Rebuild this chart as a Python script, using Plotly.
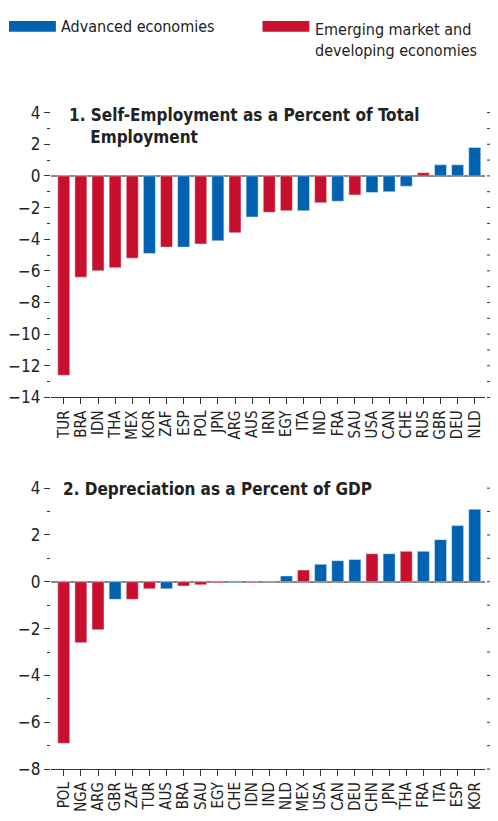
import plotly.graph_objects as go

BLUE = "#0062b0"
RED = "#c8102e"

c1 = ["TUR", "BRA", "IDN", "THA", "MEX", "KOR", "ZAF", "ESP", "POL", "JPN", "ARG", "AUS", "IRN",
      "EGY", "ITA", "IND", "FRA", "SAU", "USA", "CAN", "CHE", "RUS", "GBR", "DEU", "NLD"]
v1 = [-12.6, -6.4, -6.0, -5.8, -5.2, -4.9, -4.5, -4.5, -4.3, -4.1, -3.6, -2.6, -2.3,
      -2.2, -2.2, -1.7, -1.6, -1.2, -1.05, -1.0, -0.65, 0.2, 0.7, 0.7, 1.8]
g1 = ["E", "E", "E", "E", "E", "A", "E", "A", "E", "A", "E", "A", "E",
      "E", "A", "E", "A", "E", "A", "A", "A", "E", "A", "A", "A"]

c2 = ["POL", "NGA", "ARG", "GBR", "ZAF", "TUR", "AUS", "BRA", "SAU", "EGY", "CHE", "IDN", "IND",
      "NLD", "MEX", "USA", "CAN", "DEU", "CHN", "JPN", "THA", "FRA", "ITA", "ESP", "KOR"]
v2 = [-6.9, -2.6, -2.05, -0.75, -0.75, -0.3, -0.3, -0.18, -0.13, -0.05, -0.04, -0.04, 0.03,
      0.25, 0.5, 0.75, 0.9, 0.95, 1.2, 1.2, 1.3, 1.3, 1.8, 2.4, 3.1]
g2 = ["E", "E", "E", "A", "E", "E", "A", "E", "E", "E", "A", "E", "E",
      "A", "E", "A", "A", "A", "E", "A", "E", "A", "A", "A", "A"]

FONT = "DejaVu Sans Condensed, Liberation Sans Narrow, Liberation Sans"
W, H = 490, 813

fig = go.Figure()


def add_panel(cats, vals, grp, xa, ya):
    for key, col in [("A", BLUE), ("E", RED)]:
        xs = [c for c, g in zip(cats, grp) if g == key]
        ys = [v for v, g in zip(vals, grp) if g == key]
        fig.add_trace(go.Bar(x=xs, y=ys, marker_color=col, showlegend=False,
                             xaxis=xa, yaxis=ya, width=0.7))


add_panel(c1, v1, g1, "x", "y")
add_panel(c2, v2, g2, "x2", "y2")

XR = 477 / W
xdom = [42 / W, XR]
dom1 = [1 - 389 / H, 1 - 97 / H]
dom2 = [1 - 770 / H, 1 - 482 / H]
axx = dict(domain=xdom, tickangle=-90, ticks="outside", ticklen=6, showline=True, dtick=1,
           linecolor="#333", tickcolor="#333", tickfont=dict(size=15, color="#222", family=FONT),
           showgrid=False, range=[-0.75, 24.6])
axy = dict(ticks="outside", ticklen=6, tickcolor="#333", dtick=2, showline=False,
           showgrid=False, zeroline=True, zerolinecolor="#888", zerolinewidth=1.5,
           tickfont=dict(size=17, color="#222", family=FONT),
           minor=dict(ticks="outside", ticklen=3, dtick=1, tickcolor="#333"))

# right-hand mirrored ticks (decoration, placed in paper coords so they are not clipped)
shapes = []
for dom, lo, hi in [(dom1, -14, 4), (dom2, -8, 4)]:
    for t in range(lo, hi + 1):
        yp = dom[0] + (t - lo) / (hi - lo) * (dom[1] - dom[0])
        ln = 7 if t % 2 == 0 else 3
        shapes.append(dict(type="line", xref="paper", yref="paper", x0=XR + 2 / W,
                           x1=XR + (2 + ln) / W, y0=yp, y1=yp, line=dict(color="#333", width=1)))

shapes += [
    dict(type="rect", xref="paper", yref="paper", x0=0, x1=47 / W,
         y0=1 - 14 / H, y1=1 - 3 / H, fillcolor=BLUE, line_width=0),
    dict(type="rect", xref="paper", yref="paper", x0=254 / W, x1=301 / W,
         y0=1 - 14 / H, y1=1 - 3 / H, fillcolor=RED, line_width=0),
]

fig.update_layout(
    width=W, height=H,
    margin=dict(l=0, r=0, t=0, b=0),
    plot_bgcolor="white", paper_bgcolor="white",
    barmode="relative",
    font=dict(family=FONT, color="#222"),
    xaxis=dict(axx, categoryorder="array", categoryarray=c1, anchor="y"),
    xaxis2=dict(axx, categoryorder="array", categoryarray=c2, anchor="y2"),
    yaxis=dict(axy, domain=dom1, range=[-14, 4], anchor="x"),
    yaxis2=dict(axy, domain=dom2, range=[-8, 4], anchor="x2"),
    showlegend=False,
    annotations=[
        dict(text="Advanced economies", xref="paper", yref="paper", x=50 / W, y=1 - 9 / H,
             xanchor="left", yanchor="middle", showarrow=False, font=dict(size=16, family=FONT)),
        dict(text="Emerging market and<br>developing economies", xref="paper", yref="paper",
             x=305 / W, y=1, xanchor="left", yanchor="top", align="left",
             showarrow=False, font=dict(size=16, family=FONT)),
        dict(text="<b>1. Self-Employment as a Percent of Total<br>    Employment</b>",
             xref="paper", yref="paper", x=58 / W, y=1 - 87 / H, xanchor="left", yanchor="top",
             align="left", showarrow=False, font=dict(size=17, family=FONT)),
        dict(text="<b>2. Depreciation as a Percent of GDP</b>",
             xref="paper", yref="paper", x=52 / W, y=1 - 471 / H, xanchor="left", yanchor="top",
             align="left", showarrow=False, font=dict(size=17, family=FONT)),
    ],
    shapes=shapes,
)

fig.write_html("out.html")
